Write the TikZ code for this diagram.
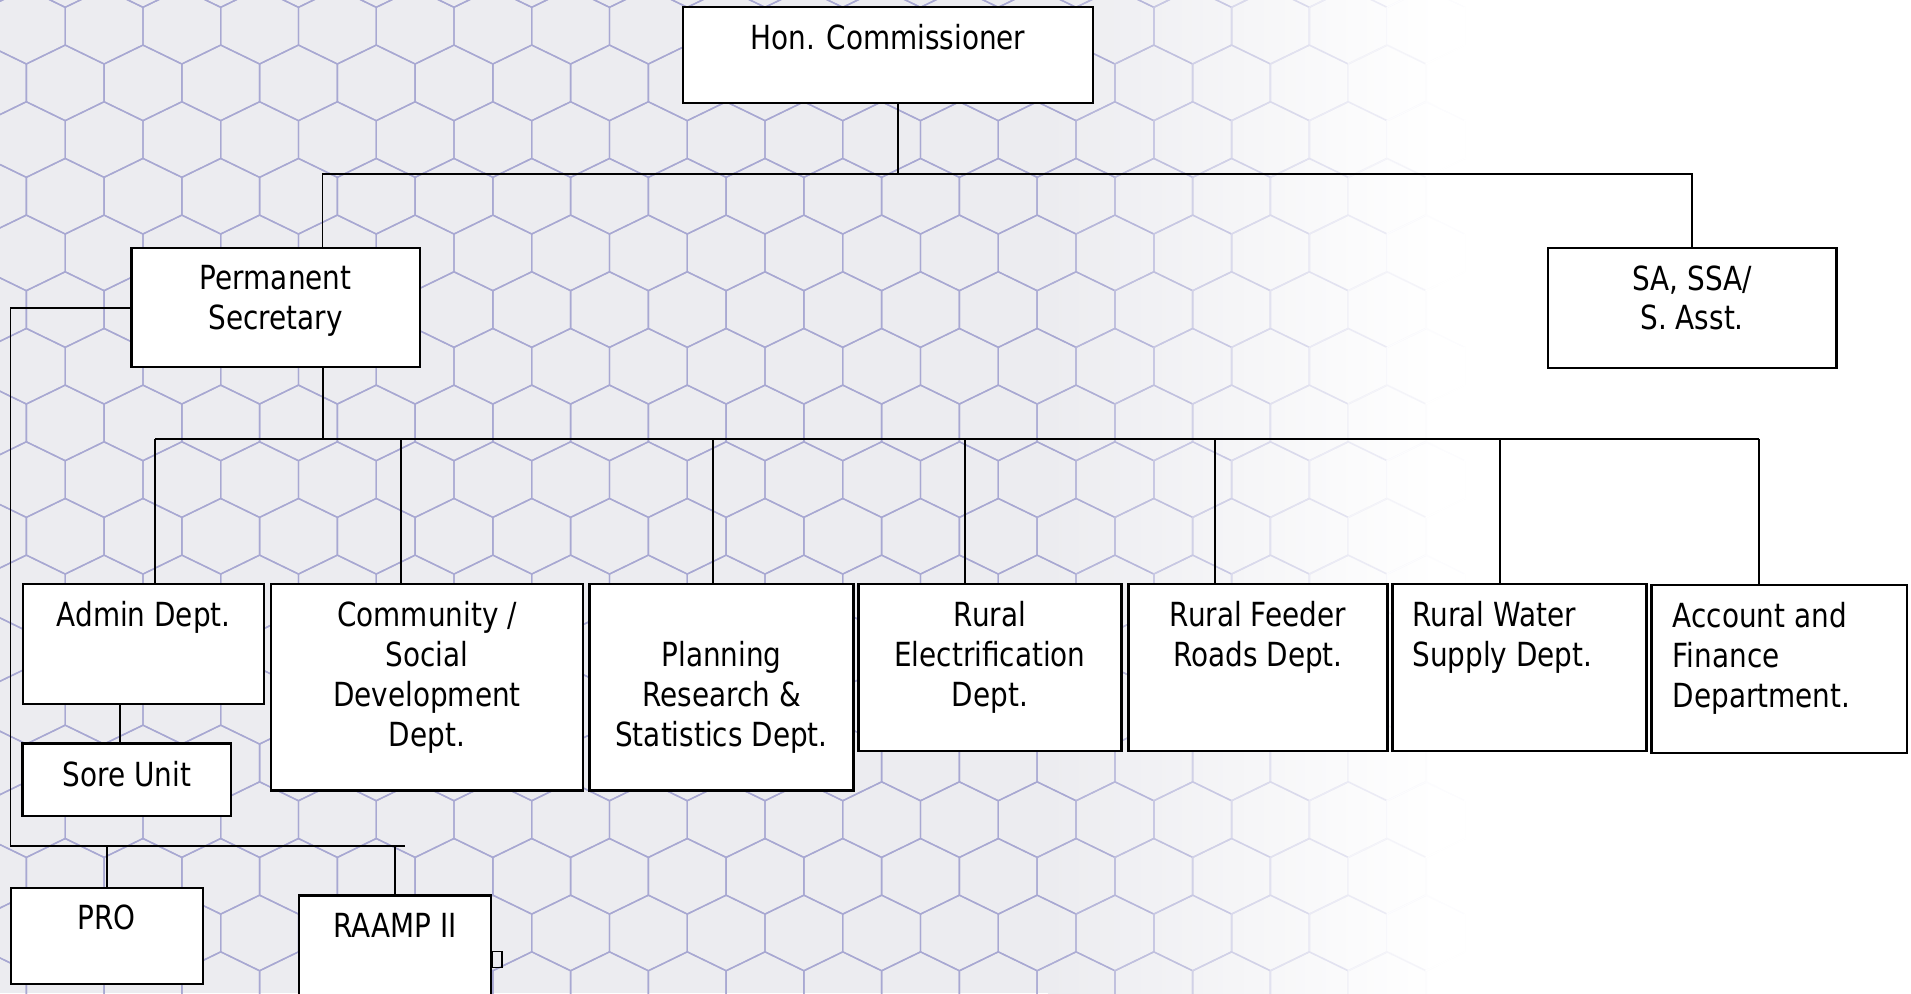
\documentclass[tikz,border=0pt]{standalone}
\usepackage{fontspec}
\setmainfont{DejaVu Sans}[FakeStretch=0.84]
\usepackage{tikz}
\pgfdeclarelayer{bg}
\pgfdeclarelayer{fg}
\pgfsetlayers{bg,main,fg}
\definecolor{hexline}{RGB}{168,168,210}
\definecolor{hexfill}{RGB}{236,236,240}
\tikzset{
  orgbox/.style={draw, line width=1.1pt, fill=white, inner sep=0pt, anchor=north west},
  orgtext/.style={anchor=north, inner sep=0pt, align=center, font=\fontsize{15.5}{18.6}\selectfont},
  orgline/.style={line width=0.9pt},
  hexedge/.style={line width=0.65pt}
}

\begin{document}
\begin{tikzpicture}[x=0.02cm, y=-0.02cm]
            \useasboundingbox (0,0) rectangle (1568,815);

            \begin{pgfonlayer}{bg}
              \begin{scope}
                \clip (0,0) rectangle (1568,815);
                \fill[hexfill] (0,0) rectangle (861,815);
                \shade[left color=hexfill, right color=white] (860,0) rectangle (1180,815);
                \foreach \r in {-1,...,18}{
                  \foreach \c in {-1,...,19}{
                    \pgfmathsetmacro{\hx}{-10.3+63.8*\c+31.9*mod(\r+1,2)}
                    \pgfmathsetmacro{\hy}{21.5+46.5*\r}
                    \pgfmathsetmacro{\pct}{max(0,min(100,(1180-\hx)/3.2))}
                    \draw[hexedge, draw=hexline!\pct!white] (\hx,\hy) +(-31.9,-15.5) -- +(0,-31) -- +(31.9,-15.5)
                      -- +(31.9,15.5) -- +(0,31) -- +(-31.9,15.5) -- cycle;
                  }
                }
              \end{scope}
            \end{pgfonlayer}

            \node[orgbox, minimum width=6.73cm, minimum height=1.57cm] (hc) at (559.3,4.9) {};
            \node[orgbox, minimum width=4.73cm, minimum height=1.96cm] (ps) at (107,202.4) {};
            \node[orgbox, minimum width=4.74cm, minimum height=1.97cm] (sa) at (1269,202.4) {};

            \node[orgbox, minimum width=3.96cm, minimum height=1.97cm] (admin) at (17.9,478.1) {};
            \node[orgbox, minimum width=3.42cm, minimum height=1.19cm] (sore) at (17.6,609.2) {};
            \node[orgbox, minimum width=5.12cm, minimum height=3.39cm] (comm) at (221.4,478.1) {};
            \node[orgbox, minimum width=4.33cm, minimum height=3.39cm] (plan) at (482.8,478.1) {};
            \node[orgbox, minimum width=4.32cm, minimum height=2.74cm] (elec) at (703.3,478.1) {};
            \node[orgbox, minimum width=4.25cm, minimum height=2.74cm] (feeder) at (925,478.1) {};
            \node[orgbox, minimum width=4.17cm, minimum height=2.74cm] (water) at (1141.5,478.1) {};
            \node[orgbox, minimum width=4.19cm, minimum height=2.75cm] (acct) at (1354.2,479.2) {};

            \node[orgbox, minimum width=3.15cm, minimum height=1.58cm] (pro) at (7.9,727.5) {};
            \node[orgbox, minimum width=3.15cm, minimum height=1.90cm] (raamp) at (244.4,733.8) {};

            \node[orgtext] (hc-t) at ([yshift=-0.3cm]hc.north) {Hon. Commissioner};
            \node[orgtext] (ps-t) at ([yshift=-0.3cm]ps.north) {Permanent\\Secretary};
            \node[orgtext] (sa-t) at ([yshift=-0.3cm]sa.north) {SA, SSA/\\S. Asst.};
            \node[orgtext] (admin-t) at ([yshift=-0.3cm]admin.north) {Admin Dept.};
            \node[orgtext] (sore-t) at ([yshift=-0.3cm]sore.north) {Sore Unit};
            \node[orgtext] (comm-t) at ([yshift=-0.3cm]comm.north) {Community /\\Social\\Development\\Dept.};
            \node[orgtext] (plan-t) at ([yshift=-0.954cm]plan.north) {Planning\\Research \&\\Statistics Dept.};
            \node[orgtext] (elec-t) at ([yshift=-0.3cm]elec.north) {Rural\\Electrification\\Dept.};
            \node[orgtext] (feeder-t) at ([yshift=-0.3cm]feeder.north) {Rural Feeder\\Roads Dept.};
            \node[orgtext, anchor=north west, align=left] (water-t) at ([xshift=0.34cm, yshift=-0.3cm]water.north west) {Rural Water\\Supply Dept.};
            \node[orgtext, anchor=north west, align=left] (acct-t) at ([xshift=0.36cm, yshift=-0.3cm]acct.north west) {Account and\\Finance\\Department.};
            \node[orgtext] (pro-t) at ([yshift=-0.3cm]pro.north) {PRO};
            \node[orgtext] (raamp-t) at ([yshift=-0.3cm]raamp.north) {RAAMP II};

            \coordinate (hcbus) at (737.1,143);
            \coordinate (psbus) at (264.6,143);
            \coordinate (deptbus) at (264.7,359.9);
            \coordinate (deptL) at (127.2,359.9);
            \coordinate (deptR) at (1443.1,359.9);
            \coordinate (sidebus) at (8.6,694.1);
            \coordinate (sideend) at (332.6,694.1);

            \draw[orgline] (hc.south -| hcbus) -- (hcbus);
            \draw[orgline] (psbus) -- (psbus |- ps.north);
            \draw[orgline] (psbus) -| (sa.north);

            \draw[orgline] (deptbus |- ps.south) -- (deptbus);
            \draw[orgline] (deptL) -- (deptR);
            \foreach \x/\n in {127.2/admin, 328.8/comm, 585/plan, 791.8/elec, 997.2/feeder, 1230.4/water, 1443.1/acct}
              \draw[orgline] (\x,359.9) -- (\x,359.9 |- \n.north);
            \draw[orgline] (98.4,0 |- admin.south) -- (98.4,0 |- sore.north);

            \draw[orgline] (ps.west) -| (sidebus) -- (sideend);
            \draw[orgline] (pro.north |- sidebus) -- (pro.north);
            \draw[orgline] (raamp.north |- sidebus) -- (raamp.north);
            \draw[line width=0.7pt] (raamp.north east) ++(0,47) rectangle ++(8,13);
\end{tikzpicture}
\end{document}
